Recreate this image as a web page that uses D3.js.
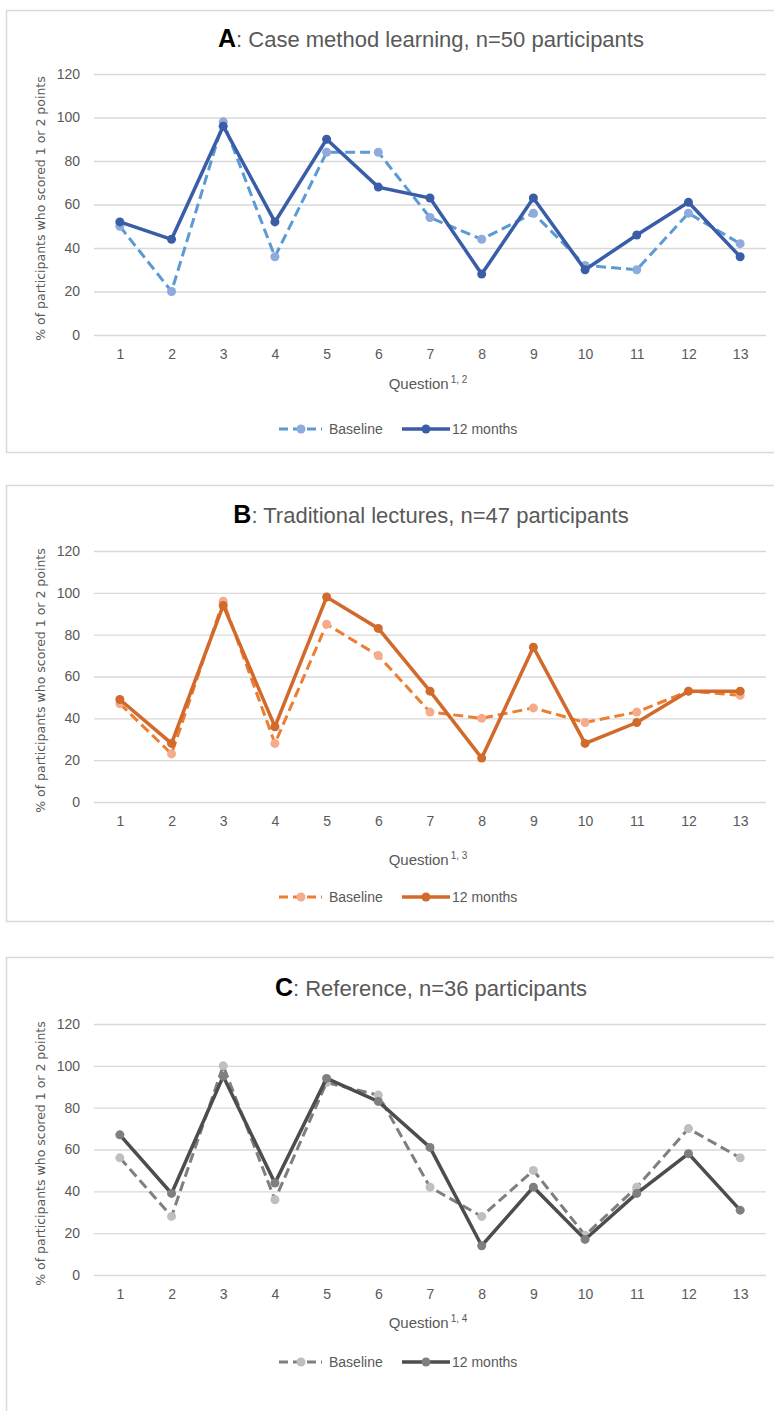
<!DOCTYPE html>
<meta charset="utf-8">

<script src="https://d3js.org/d3.v7.min.js"></script>
<style>
  body { margin: 0; background: #fff; }
</style>

<div id="my_dataviz"></div>

<script>

  // questions on the x axis and the y ticks
  var questions = [1, 2, 3, 4, 5, 6, 7, 8, 9, 10, 11, 12, 13];
  var yTicks = [0, 20, 40, 60, 80, 100, 120];
  var seriesNames = ["Baseline", "12 months"];

  // A : case method learning
  var caseBaseline = [50, 20, 98, 36, 84, 84, 54, 44, 56, 32, 30, 56, 42];
  var caseMonths   = [52, 44, 96, 52, 90, 68, 63, 28, 63, 30, 46, 61, 36];

  // B : traditional lectures
  var lectureBaseline = [47, 23, 96, 28, 85, 70, 43, 40, 45, 38, 43, 53, 51];
  var lectureMonths   = [49, 28, 94, 36, 98, 83, 53, 21, 74, 28, 38, 53, 53];

  // C : reference
  var refBaseline = [56, 28, 100, 36, 92, 86, 42, 28, 50, 19, 42, 70, 56];
  var refMonths   = [67, 39, 95, 44, 94, 83, 61, 14, 42, 17, 39, 58, 31];

  var panels = [
    { letter: "A", title: ": Case method learning, n=50 participants", sup: "1, 2",
      baseline: caseBaseline, months: caseMonths,
      col: { baseLine: "#5B9BD5", baseDot: "#8FAADC", line: "#3A5DA8", dot: "#3A5DA8" },
      boxTop: 10, boxBottom: 452, titleY: 47, top: 74, bottom: 335, xTitleY: 389, legendY: 429 },
    { letter: "B", title: ": Traditional lectures, n=47 participants", sup: "1, 3",
      baseline: lectureBaseline, months: lectureMonths,
      col: { baseLine: "#ED7D31", baseDot: "#F4AC8C", line: "#D26A2B", dot: "#D26A2B" },
      boxTop: 485, boxBottom: 921, titleY: 523, top: 551, bottom: 802, xTitleY: 865, legendY: 897 },
    { letter: "C", title: ": Reference, n=36 participants", sup: "1, 4",
      baseline: refBaseline, months: refMonths,
      col: { baseLine: "#7F7F7F", baseDot: "#BFBFBF", line: "#4D4D4D", dot: "#7F7F7F" },
      boxTop: 957, boxBottom: 1500, titleY: 996, top: 1024, bottom: 1275, xTitleY: 1328, legendY: 1362 }
  ];

  var W = 774, H = 1411;
  var left = 94, right = 766;
  var grey = "#595959";

  var svg = d3.select("#my_dataviz")
    .append("svg")
      .attr("width", W)
      .attr("height", H)
      .style("font-family", "'Liberation Sans', Arial, sans-serif");

  var x = d3.scalePoint()
    .domain(questions)
    .range([left, right])
    .padding(0.5);

  panels.forEach(function(p) {
    var g = svg.append("g");

    // chart border
    g.append("rect")
      .attr("x", 6.5).attr("y", p.boxTop + 0.5)
      .attr("width", 820).attr("height", p.boxBottom - p.boxTop)
      .attr("fill", "#fff")
      .attr("stroke", "#D9D9D9")
      .attr("stroke-width", 1.5);

    // title
    var t = g.append("text")
      .attr("x", 431).attr("y", p.titleY)
      .attr("text-anchor", "middle");
    t.append("tspan").text(p.letter)
      .attr("font-weight", "bold").attr("font-size", 25).attr("fill", "#000");
    t.append("tspan").text(p.title)
      .attr("font-size", 22).attr("fill", grey);

    var y = d3.scaleLinear()
      .domain([0, 120])
      .range([p.bottom, p.top]);

    // y axis with gridlines
    var ya = g.append("g")
      .attr("transform", "translate(" + left + ",0)")
      .call(d3.axisLeft(y).tickValues(yTicks).tickSize(-(right - left)).tickPadding(14));
    ya.select(".domain").remove();
    ya.selectAll("line").attr("stroke", "#D9D9D9").attr("stroke-width", 1.3);
    ya.selectAll("text").attr("fill", grey).attr("font-size", 14)
      .attr("font-family", "'Liberation Sans', Arial, sans-serif");

    // x axis labels
    var xa = g.append("g")
      .attr("transform", "translate(0," + p.bottom + ")")
      .call(d3.axisBottom(x).tickSize(0).tickPadding(14));
    xa.select(".domain").remove();
    xa.selectAll("text").attr("fill", grey).attr("font-size", 14)
      .attr("font-family", "'Liberation Sans', Arial, sans-serif");

    // y title
    g.append("text")
      .attr("transform", "translate(45," + ((p.top + p.bottom) / 2 + 4) + ") rotate(-90)")
      .attr("text-anchor", "middle")
      .attr("font-family", "'DejaVu Sans', sans-serif")
      .attr("font-size", 12.5)
      .attr("fill", grey)
      .text("% of participants who scored 1 or 2 points");

    // x title
    var xt = g.append("text")
      .attr("x", 428).attr("y", p.xTitleY)
      .attr("text-anchor", "middle")
      .attr("fill", grey);
    xt.append("tspan").text("Question").attr("font-size", 15);
    xt.append("tspan").text("\u2009" + p.sup).attr("font-size", 10).attr("dy", -6);

    var line = d3.line()
      .x(function(d, i) { return x(questions[i]); })
      .y(function(d) { return y(d); });

    // baseline series
    g.append("path")
      .datum(p.baseline)
      .attr("d", line)
      .attr("fill", "none")
      .attr("stroke", p.col.baseLine)
      .attr("stroke-width", 3)
      .attr("stroke-dasharray", "10,5");
    g.selectAll("base-dots")
      .data(p.baseline)
      .enter()
      .append("circle")
        .attr("cx", function(d, i) { return x(questions[i]); })
        .attr("cy", function(d) { return y(d); })
        .attr("r", 4.5)
        .attr("fill", p.col.baseDot);

    // 12 months series
    g.append("path")
      .datum(p.months)
      .attr("d", line)
      .attr("fill", "none")
      .attr("stroke", p.col.line)
      .attr("stroke-width", 3.5);
    g.selectAll("month-dots")
      .data(p.months)
      .enter()
      .append("circle")
        .attr("cx", function(d, i) { return x(questions[i]); })
        .attr("cy", function(d) { return y(d); })
        .attr("r", 4.5)
        .attr("fill", p.col.dot);

    // legend
    var ly = p.legendY;
    var lg = g.append("g");
    lg.append("line")
      .attr("x1", 279).attr("x2", 322).attr("y1", ly).attr("y2", ly)
      .attr("stroke", p.col.baseLine).attr("stroke-width", 3).attr("stroke-dasharray", "9,5");
    lg.append("circle").attr("cx", 301).attr("cy", ly).attr("r", 4.5).attr("fill", p.col.baseDot);
    lg.append("text").attr("x", 329).attr("y", ly + 5)
      .attr("font-size", 14).attr("fill", grey).text(seriesNames[0]);
    lg.append("line")
      .attr("x1", 402).attr("x2", 450).attr("y1", ly).attr("y2", ly)
      .attr("stroke", p.col.line).attr("stroke-width", 3.5);
    lg.append("circle").attr("cx", 426).attr("cy", ly).attr("r", 4.5).attr("fill", p.col.dot);
    lg.append("text").attr("x", 452).attr("y", ly + 5)
      .attr("font-size", 14).attr("fill", grey).text(seriesNames[1]);
  });

</script>
